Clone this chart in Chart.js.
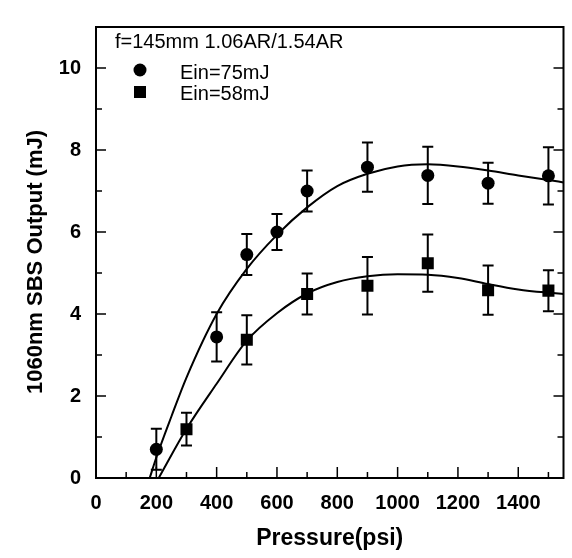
<!DOCTYPE html>
<html>
<head>
<meta charset="utf-8">
<script src="https://cdn.jsdelivr.net/npm/chart.js@4"></script>
<style>
  body { margin: 0; background: #fff; }
  #wrap { width: 572px; height: 558px; }
</style>
</head>
<body>
<div id="wrap"><canvas id="chart" width="572" height="558"></canvas></div>
<script>
// measured points, Ein = 75 mJ (circles)
const pressure75 = [200, 400, 500, 600, 700, 900, 1100, 1300, 1500];
const output75 = [0.7, 3.44, 5.45, 6.0, 7.0, 7.58, 7.38, 7.19, 7.37];
const err75 = [0.5, 0.6, 0.5, 0.44, 0.5, 0.6, 0.7, 0.5, 0.7];

// measured points, Ein = 58 mJ (squares)
const pressure58 = [300, 500, 700, 900, 1100, 1300, 1500];
const output58 = [1.19, 3.37, 4.49, 4.69, 5.24, 4.58, 4.57];
const err58 = [0.4, 0.6, 0.5, 0.7, 0.7, 0.6, 0.5];

// fitted curves
const fitP75 = [178, 200, 250, 300, 400, 500, 600, 700, 800, 900, 1000, 1100, 1200, 1300, 1400, 1500, 1550];
const fitV75 = [0, 0.5, 1.5, 2.45, 4.0, 5.1, 5.93, 6.6, 7.12, 7.42, 7.6, 7.65, 7.6, 7.5, 7.38, 7.27, 7.21];
const fitP58 = [208, 300, 400, 500, 600, 700, 800, 900, 1000, 1100, 1200, 1300, 1400, 1500, 1550];
const fitV58 = [0, 1.2, 2.3, 3.35, 4.02, 4.5, 4.78, 4.92, 4.97, 4.96, 4.88, 4.73, 4.6, 4.52, 4.49];

const xTickLabels = [0, 200, 400, 600, 800, 1000, 1200, 1400];
const yTickLabels = [0, 2, 4, 6, 8, 10];

const legendTitle = 'f=145mm 1.06AR/1.54AR';
const seriesNames = ['Ein=75mJ', 'Ein=58mJ'];
const yTitle = '1060nm SBS Output (mJ)';

const fontFamily = '"Liberation Sans", Arial, sans-serif';

function toPoints(xs, ys) {
    return xs.map((x, i) => ({ x: x, y: ys[i] }));
}

// error bars, axis frame, minor ticks, y title and the legend box
const extrasPlugin = {
    id: 'extras',
    afterDatasetsDraw(chart) {
        const ctx = chart.ctx;
        const xs = chart.scales.x;
        const ys = chart.scales.y;
        const area = chart.chartArea;

        ctx.save();
        ctx.strokeStyle = '#000';
        ctx.lineWidth = 2;
        [[pressure75, output75, err75], [pressure58, output58, err58]].forEach(set => {
            set[0].forEach((p, i) => {
                const px = xs.getPixelForValue(p);
                const top = ys.getPixelForValue(set[1][i] + set[2][i]);
                const bot = ys.getPixelForValue(set[1][i] - set[2][i]);
                ctx.beginPath();
                ctx.moveTo(px, top); ctx.lineTo(px, bot);
                ctx.moveTo(px - 5.5, top); ctx.lineTo(px + 5.5, top);
                ctx.moveTo(px - 5.5, bot); ctx.lineTo(px + 5.5, bot);
                ctx.stroke();
            });
        });

        // frame
        ctx.lineWidth = 2;
        ctx.strokeRect(area.left, area.top, area.right - area.left, area.bottom - area.top);

        // x ticks, every 100 psi, pointing inward
        ctx.lineWidth = 1.5;
        for (let v = 100; v <= 1500; v += 100) {
            const px = xs.getPixelForValue(v);
            const len = v % 200 === 0 ? 11 : 6;
            ctx.beginPath();
            ctx.moveTo(px, area.bottom); ctx.lineTo(px, area.bottom - len);
            ctx.stroke();
        }
        // y ticks, every 1 mJ, on both sides
        for (let v = 1; v <= 10; v++) {
            const py = ys.getPixelForValue(v);
            const len = v % 2 === 0 ? 10 : 6;
            ctx.beginPath();
            ctx.moveTo(area.left, py); ctx.lineTo(area.left + len, py);
            ctx.moveTo(area.right, py); ctx.lineTo(area.right - len, py);
            ctx.stroke();
        }

        // y axis title, sits a bit below the middle of the axis in the original
        ctx.fillStyle = '#000';
        ctx.font = 'bold 22px ' + fontFamily;
        ctx.textAlign = 'center';
        ctx.textBaseline = 'middle';
        ctx.translate(36, 262);
        ctx.rotate(-Math.PI / 2);
        ctx.fillText(yTitle, 0, 0);
        ctx.setTransform(1, 0, 0, 1, 0, 0);

        // legend
        ctx.font = '20px ' + fontFamily;
        ctx.textBaseline = 'alphabetic';
        ctx.textAlign = 'left';
        ctx.fillText(legendTitle, 115, 48);
        ctx.fillText(seriesNames[0], 180, 79);
        ctx.fillText(seriesNames[1], 180, 100);
        ctx.beginPath();
        ctx.arc(140, 70, 6.5, 0, Math.PI * 2);
        ctx.fill();
        ctx.fillRect(134, 86, 12, 12);
        ctx.restore();
    }
};

const boldTick = { family: fontFamily, size: 20, weight: 'bold' };
const boldTitle = { family: fontFamily, size: 23, weight: 'bold' };

const config = {
    type: 'scatter',
    data: {
        datasets: [
            {
                type: 'line',
                data: toPoints(fitP75, fitV75),
                borderColor: '#000',
                borderWidth: 2,
                pointRadius: 0,
                cubicInterpolationMode: 'monotone',
                fill: false
            },
            {
                type: 'line',
                data: toPoints(fitP58, fitV58),
                borderColor: '#000',
                borderWidth: 2,
                pointRadius: 0,
                cubicInterpolationMode: 'monotone',
                fill: false
            },
            {
                label: seriesNames[0],
                data: toPoints(pressure75, output75),
                pointStyle: 'circle',
                pointRadius: 6.5,
                backgroundColor: '#000',
                borderColor: '#000',
                borderWidth: 0
            },
            {
                label: seriesNames[1],
                data: toPoints(pressure58, output58),
                pointStyle: 'rect',
                pointRadius: 8.5,
                backgroundColor: '#000',
                borderColor: '#000',
                borderWidth: 0
            }
        ]
    },
    plugins: [extrasPlugin],
    options: {
        responsive: false,
        animation: false,
        layout: { padding: { top: 5, right: 5, left: 0, bottom: 0 } },
        plugins: {
            legend: { display: false },
            tooltip: { enabled: false }
        },
        scales: {
            x: {
                type: 'linear',
                min: 0,
                max: 1550,
                afterBuildTicks: scale => {
                    scale.ticks = xTickLabels.map(v => ({ value: v }));
                },
                afterFit: scale => { scale.height = 80; },
                grid: { display: false, drawTicks: false },
                border: { display: false },
                ticks: { color: '#000', font: boldTick, padding: 13, maxRotation: 0, callback: v => String(v) },
                title: {
                    display: true,
                    text: 'Pressure(psi)',
                    color: '#000',
                    font: boldTitle,
                    padding: { top: 0, bottom: 6 }
                }
            },
            y: {
                min: 0,
                max: 11,
                afterBuildTicks: scale => {
                    scale.ticks = yTickLabels.map(v => ({ value: v }));
                },
                afterFit: scale => { scale.width = 96; },
                grid: { display: false, drawTicks: false },
                border: { display: false },
                ticks: { color: '#000', font: boldTick, padding: 15, callback: v => String(v) }
            }
        }
    }
};

new Chart(document.getElementById('chart'), config);
</script>
</body>
</html>
